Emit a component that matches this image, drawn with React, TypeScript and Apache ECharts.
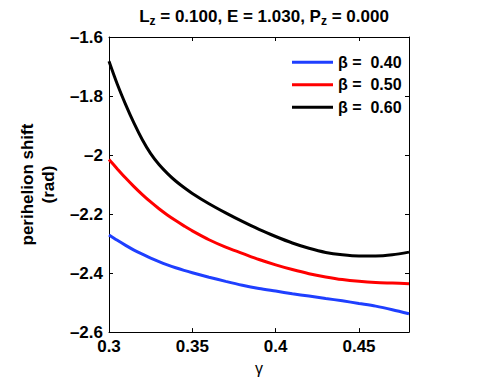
import React, { useEffect, useRef } from "react";
import * as echarts from "echarts";

const gammas = [0.3, 0.305, 0.31, 0.315, 0.32, 0.325, 0.33, 0.335, 0.34, 0.345, 0.35, 0.36, 0.37, 0.38, 0.39, 0.4, 0.41, 0.42, 0.43, 0.44, 0.45, 0.46, 0.47, 0.48];
const beta040 = [-2.271, -2.289, -2.306, -2.322, -2.336, -2.349, -2.361, -2.372, -2.382, -2.391, -2.399, -2.414, -2.428, -2.441, -2.452, -2.461, -2.47, -2.478, -2.486, -2.494, -2.503, -2.512, -2.524, -2.538];
const beta050 = [-2.015, -2.047, -2.078, -2.107, -2.134, -2.159, -2.182, -2.203, -2.222, -2.24, -2.257, -2.287, -2.312, -2.333, -2.354, -2.372, -2.388, -2.402, -2.413, -2.422, -2.428, -2.432, -2.434, -2.436];
const beta060 = [-1.682, -1.76, -1.829, -1.892, -1.948, -1.995, -2.032, -2.062, -2.088, -2.11, -2.13, -2.165, -2.196, -2.225, -2.252, -2.276, -2.298, -2.316, -2.33, -2.338, -2.342, -2.342, -2.338, -2.329];
const seriesNames = ["β =  0.40", "β =  0.50", "β =  0.60"];
const seriesColors = ["#1f3fff", "#ff0000", "#000000"];
const xTicks = [0.3, 0.35, 0.4, 0.45];
const yTicks = [-2.6, -2.4, -2.2, -2, -1.8, -1.6];

const FONT = "Liberation Sans, Arial, Helvetica, sans-serif";

export default function App() {
  const ref = useRef<HTMLDivElement>(null);
  useEffect(() => {
    if (!ref.current) return;
    const chart = echarts.init(ref.current, undefined, { renderer: "svg" });
    const allData = [beta040, beta050, beta060];
    const fmtY = (v: number) => {
      const s = yTicks.find((t) => Math.abs(t - v) < 1e-9);
      if (s === undefined) return "";
      return String(s).replace("-", "–");
    };
    chart.setOption({
      animation: false,
      backgroundColor: "#ffffff",
      textStyle: { fontFamily: FONT },
      title: {
        text: "{b|L}{s|z}{b| = 0.100, E = 1.030, P}{s|z}{b| = 0.000}",
        left: 259,
        top: 1,
        textAlign: "center",
        textStyle: {
          rich: {
            b: { fontFamily: FONT, fontWeight: "bold", fontSize: 17, color: "#000" },
            s: { fontFamily: FONT, fontWeight: "bold", fontSize: 12, color: "#000", padding: [9, 0, 0, 0] },
          },
        },
      },
      legend: {
        orient: "vertical",
        left: 287,
        top: 46,
        itemWidth: 41,
        itemHeight: 3,
        itemGap: 0,
        icon: "rect",
        data: seriesNames,
        textStyle: { fontFamily: FONT, fontWeight: "bold", fontSize: 16, color: "#000", lineHeight: 22.5 },
      },
      grid: { left: 109, top: 37, right: 90, bottom: 44, containLabel: false },
      xAxis: [
        {
          type: "value",
          min: 0.3,
          max: 0.48,
          interval: 0.05,
          name: "γ",
          nameLocation: "middle",
          nameGap: 27,
          nameTextStyle: { fontFamily: FONT, fontSize: 16, color: "#000" },
          axisLine: { show: true, lineStyle: { color: "#000", width: 1 } },
          axisTick: { show: true, inside: true, length: 4, lineStyle: { color: "#000" } },
          axisLabel: {
            fontFamily: FONT, fontWeight: "bold", fontSize: 17, color: "#000", margin: 6,
            formatter: (v: number) => (xTicks.some((t) => Math.abs(t - v) < 1e-9) ? String(+v.toFixed(2)) : ""),
            showMaxLabel: false,
          },
          splitLine: { show: false },
        },
        {
          type: "value",
          position: "top",
          min: 0.3,
          max: 0.48,
          interval: 0.05,
          axisLine: { show: true, lineStyle: { color: "#000", width: 1 } },
          axisTick: { show: true, inside: true, length: 4, lineStyle: { color: "#000" } },
          axisLabel: { show: false },
          splitLine: { show: false },
        },
      ],
      yAxis: [
        {
          type: "value",
          min: -2.6,
          max: -1.6,
          interval: 0.2,
          name: "perihelion shift\n(rad)",
          nameLocation: "middle",
          nameGap: 41,
          nameRotate: 90,
          nameTextStyle: { fontFamily: FONT, fontWeight: "bold", fontSize: 17, color: "#000", lineHeight: 21 },
          axisLine: { show: true, lineStyle: { color: "#000", width: 1 } },
          axisTick: { show: true, inside: true, length: 4, lineStyle: { color: "#000" } },
          axisLabel: { fontFamily: FONT, fontWeight: "bold", fontSize: 17, color: "#000", margin: 6, formatter: fmtY },
          splitLine: { show: false },
        },
        {
          type: "value",
          position: "right",
          min: -2.6,
          max: -1.6,
          interval: 0.2,
          axisLine: { show: true, lineStyle: { color: "#000", width: 1 } },
          axisTick: { show: true, inside: true, length: 4, lineStyle: { color: "#000" } },
          axisLabel: { show: false },
          splitLine: { show: false },
        },
      ],
      series: seriesNames.map((name, i) => ({
        name,
        type: "line",
        data: gammas.map((g, j) => [g, allData[i][j]]),
        showSymbol: false,
        symbol: "none",
        smooth: 0.3,
        lineStyle: { color: seriesColors[i], width: 3 },
        itemStyle: { color: seriesColors[i] },
        xAxisIndex: 0,
        yAxisIndex: 0,
      })),
    });
    return () => chart.dispose();
  }, []);
  return <div ref={ref} style={{ position: "absolute", left: 0, top: 0, width: 499, height: 381 }} />;
}
